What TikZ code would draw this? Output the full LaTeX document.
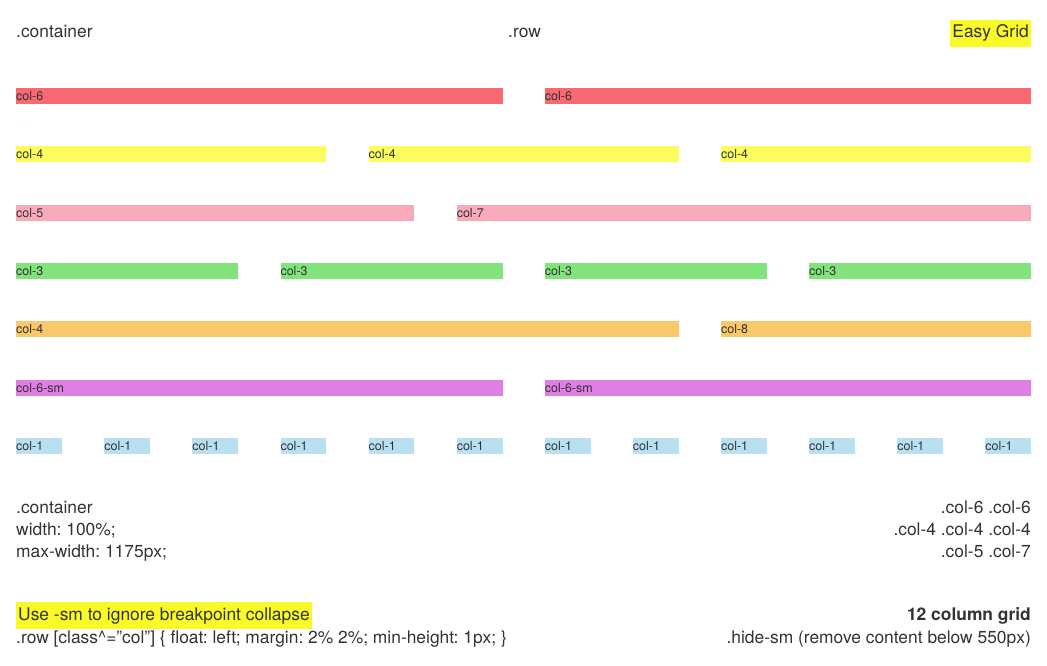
\documentclass[tikz,border=0pt]{standalone}
\usepackage{fontspec}
\setmainfont{TeX Gyre Heros}
\frenchspacing
\definecolor{txt}{HTML}{333333}
\definecolor{cred}{HTML}{F76A72}
\definecolor{cyel}{HTML}{FCFC5E}
\definecolor{cpink}{HTML}{F8AABA}
\definecolor{cgreen}{HTML}{82E27B}
\definecolor{corange}{HTML}{F9C86A}
\definecolor{cmag}{HTML}{E07FE3}
\definecolor{cblue}{HTML}{B8E0F0}
\definecolor{hl}{HTML}{FAFA28}
\newcommand\gbar[6]{\node[gbar, fill=#5, text width=#3pt] (#1) at (#2,#4) {#6};}
\begin{document}
\begin{tikzpicture}[x=1pt,y=-1pt,
  gbar/.style={anchor=north west, inner xsep=0pt, inner ysep=0pt, minimum height=16pt, align=left, text=txt, font=\fontsize{12.5}{14}\selectfont},
  big/.style={inner sep=0pt, text=txt, font=\fontsize{17.4}{22}\selectfont},
  hlbox/.style={fill=hl, inner xsep=2pt, inner ysep=5pt}]
\useasboundingbox[fill=white] (0,0) rectangle (1047,666);
% header
\node[big, anchor=base west] (hcont) at (16,38) {.container};
\node[big, anchor=base west] (hrow) at (508,38) {.row};
\node[big, hlbox, anchor=base east] (heasy) at (1031,38) {Easy Grid};
% row 1
\gbar{a1}{16}{486.36}{88}{cred}{col-6}
\gbar{a2}{544.66}{486.36}{88}{cred}{col-6}
% row 2
\gbar{b1}{16}{310.14}{146}{cyel}{col-4}
\gbar{b2}{368.44}{310.14}{146}{cyel}{col-4}
\gbar{b3}{720.88}{310.14}{146}{cyel}{col-4}
% row 3
\gbar{c1}{16}{398.25}{205}{cpink}{col-5}
\gbar{c2}{456.55}{574.47}{205}{cpink}{col-7}
% row 4
\gbar{d1}{16}{222.03}{263}{cgreen}{col-3}
\gbar{d2}{280.33}{222.03}{263}{cgreen}{col-3}
\gbar{d3}{544.66}{222.03}{263}{cgreen}{col-3}
\gbar{d4}{808.99}{222.03}{263}{cgreen}{col-3}
% row 5
\gbar{e1}{16}{662.58}{321}{corange}{col-4}
\gbar{e2}{720.88}{310.14}{321}{corange}{col-8}
% row 6
\gbar{f1}{16}{486.36}{380}{cmag}{col-6-sm}
\gbar{f2}{544.66}{486.36}{380}{cmag}{col-6-sm}
% row 7
\foreach \k in {0,...,11}{
  \pgfmathsetmacro\xx{16+88.11*\k}
  \gbar{g\k}{\xx}{45.81}{438}{cblue}{col-1}
}
% bottom left
\node[big, anchor=base west] (bl1) at (16,513) {.container};
\node[big, anchor=base west] (bl2) at (16,535) {width: 100\%;};
\node[big, anchor=base west] (bl3) at (16,557) {max-width: 1175px;};
% bottom right
\node[big, anchor=base east] (br1) at (1031,513) {.col-6 .col-6};
\node[big, anchor=base east] (br2) at (1031,535) {.col-4 .col-4 .col-4};
\node[big, anchor=base east] (br3) at (1031,557) {.col-5 .col-7};
% footer
\node[big, hlbox, anchor=base west] (use) at (16,620) {Use -sm to ignore breakpoint collapse};
\node[big, anchor=base west] (rowcss) at (16,643) {.row [class\textasciicircum=\symbol{34}col\symbol{34}] \{ float: left; margin: 2\% 2\%; min-height: 1px; \}};
\node[big, anchor=base east, font=\fontsize{17.4}{22}\selectfont\bfseries] (twelve) at (1031,620) {12 column grid};
\node[big, anchor=base east] (hide) at (1031,643) {.hide-sm (remove content below 550px)};
\end{tikzpicture}
\end{document}
